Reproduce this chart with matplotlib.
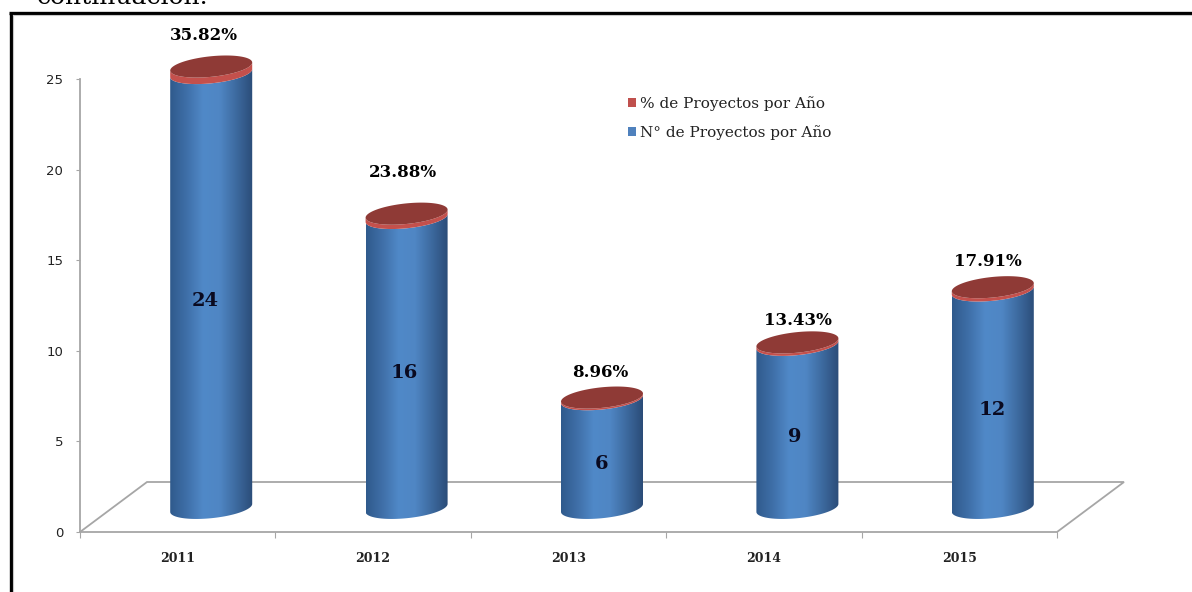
import numpy as np
import matplotlib
matplotlib.use('Agg')
import matplotlib.pyplot as plt
from matplotlib.colors import LinearSegmentedColormap
from matplotlib.lines import Line2D
from matplotlib.patches import Polygon, Patch

# datos
years = ['2011', '2012', '2013', '2014', '2015']
n_proyectos = [24, 16, 6, 9, 12]
pct_proyectos = [35.82, 23.88, 8.96, 13.43, 17.91]

# desplazamiento a mano de las etiquetas (pixeles)
pct_dx = [-7, -4, -2, 1, -5]
pct_dy = [31, 41, 25, 22, 26]
n_dx = [-6, -2, 0, -3, -1]

W, H = 1192, 592
fig = plt.figure(figsize=(W / 100, H / 100), dpi=100)
ax = fig.add_axes([80 / W, (H - 532) / H, 977 / W, 453 / H])
ax.set_xlim(0, 5)
ax.set_ylim(0, 25)

# medidas del efecto 3D en unidades de datos
px_x = 5 / 977
px_y = 25 / 453
depth_x = 67 * px_x
depth_y = 50 * px_y
half_w = 41 * px_x
tilt = 4 * px_y
half_h = 10.3 * px_y

blue_cmap = LinearSegmentedColormap.from_list(
    'cil', ['#2f5a8c', '#3f6fa8', '#5089c8', '#4f86c4', '#3d6a9f', '#2b4c78'])
gradient = np.linspace(0, 1, 256).reshape(1, -1)


def ellipse_pts(cx, cy, t):
    return np.column_stack([cx + half_w * np.cos(t),
                            cy + tilt * np.cos(t) + half_h * np.sin(t)])


def front_band(cx, y0, y1):
    # cara frontal del cilindro entre dos alturas
    t_low = np.linspace(np.pi, 2 * np.pi, 60)
    low = ellipse_pts(cx, y0, t_low)
    up = ellipse_pts(cx, y1, t_low)[::-1]
    return np.vstack([low, up])


# piso
floor = Polygon([(0, 0), (depth_x, depth_y), (5 + depth_x, depth_y), (5, 0)],
                closed=False, fill=False, edgecolor='#a6a6a6', lw=1.3,
                clip_on=False, zorder=1)
ax.add_patch(floor)

# cilindros
for i in range(len(years)):
    cx = i + 0.5 + depth_x / 2
    base = depth_y / 2 - 0.05
    top_blue = base + n_proyectos[i]
    top_red = top_blue + pct_proyectos[i] / 100

    band = Polygon(front_band(cx, base, top_blue), closed=True,
                   facecolor='none', edgecolor='none', transform=ax.transData)
    ax.add_patch(band)
    im = ax.imshow(gradient, extent=[cx - half_w, cx + half_w, base - 1, top_blue + 1],
                   cmap=blue_cmap, aspect='auto', zorder=2)
    im.set_clip_box(fig.bbox)
    im.set_clip_path(band)

    ax.add_patch(Polygon(front_band(cx, top_blue, top_red), closed=True,
                         facecolor='#c4504c', edgecolor='none', clip_on=False, zorder=3))
    t = np.linspace(0, 2 * np.pi, 120)
    ax.add_patch(Polygon(ellipse_pts(cx, top_red, t), closed=True,
                         facecolor='#8f3a36', edgecolor='none', clip_on=False, zorder=4))

    ax.annotate(f'{pct_proyectos[i]:.2f}%', (cx, top_red),
                xytext=(pct_dx[i] * 0.72, pct_dy[i] * 0.72), textcoords='offset points',
                ha='center', va='center', fontsize=12, fontweight='bold',
                family='DejaVu Serif', color='black', annotation_clip=False, zorder=5)
    ax.annotate(str(n_proyectos[i]), (cx, base + n_proyectos[i] / 2),
                xytext=(n_dx[i] * 0.72, -10.5 * 0.72), textcoords='offset points',
                ha='center', va='center', fontsize=14, fontweight='bold',
                family='DejaVu Serif', color='#0a0a20', zorder=5)

ax.set_xlim(0, 5)
ax.set_ylim(0, 25)

# ejes
for s in ['top', 'right']:
    ax.spines[s].set_visible(False)
for s in ['left', 'bottom']:
    ax.spines[s].set_color('#a6a6a6')
    ax.spines[s].set_linewidth(1.3)

ax.set_yticks(range(0, 26, 5))
ax.tick_params(axis='y', length=3, color='#a6a6a6', labelsize=9.5, pad=9, labelcolor='#222222')
ax.set_xticks(range(0, 6))
ax.set_xticklabels([])
ax.tick_params(axis='x', which='major', length=4.3, color='#a6a6a6')
ax.set_xticks([i + 0.5 for i in range(5)], minor=True)
ax.set_xticklabels(years, minor=True, fontsize=9, fontweight='bold',
                   family='DejaVu Serif', color='#222222')
ax.tick_params(axis='x', which='minor', length=0, pad=14.5)

# leyenda
handles = [Patch(facecolor='#c0504d', label='% de Proyectos por Año'),
           Patch(facecolor='#4f81bd', label='N° de Proyectos por Año')]
leg = ax.legend(handles=handles, loc='upper left', bbox_to_anchor=(0.5607, 0.9625),
                frameon=False, prop={'family': 'DejaVu Serif', 'size': 11},
                handlelength=0.52, handleheight=0.52, handletextpad=0.26,
                labelspacing=0.95, borderpad=0, borderaxespad=0, labelcolor='#222222')

# marco de la pagina y texto cortado de arriba
fig.add_artist(Line2D([10.5 / W, 10.5 / W], [0, (H - 12.5) / H], color='black', lw=2.4,
                      solid_capstyle='butt'))
fig.add_artist(Line2D([9 / W, 1], [(H - 12.5) / H, (H - 12.5) / H], color='black', lw=2.4,
                      solid_capstyle='butt'))
fig.add_artist(Line2D([13 / W, 1], [(H - 14.8) / H, (H - 14.8) / H], color='#c8c8c8', lw=0.8))
fig.add_artist(Line2D([13 / W, 13 / W], [0, (H - 14.8) / H], color='#c8c8c8', lw=0.8))
# la primera linea del texto queda cortada por el borde, igual que en la captura
fig.text(37 / W, (H - 4) / H, 'continuación.', family='DejaVu Serif', fontsize=18,
         ha='left', va='baseline', color='black')

fig.savefig('out.png', dpi=100)
